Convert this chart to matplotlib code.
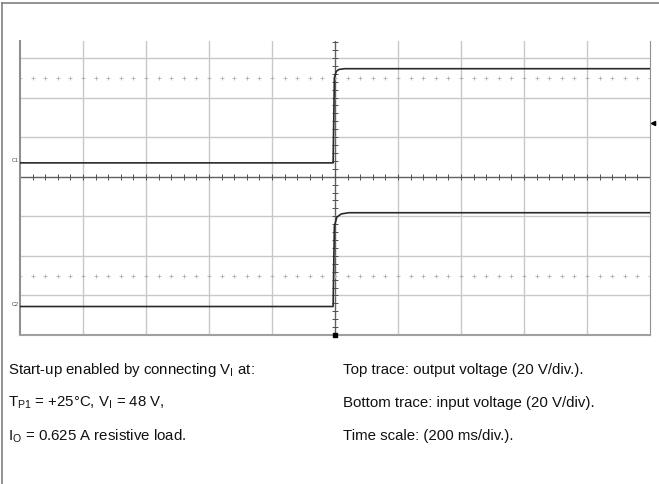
import numpy as np
import matplotlib.pyplot as plt
from matplotlib.lines import Line2D

plt.rcParams['font.family'] = ['Liberation Sans', 'DejaVu Sans']
plt.rcParams['mathtext.fontset'] = 'custom'
plt.rcParams['mathtext.rm'] = 'Liberation Sans'

# scope traces, in divisions (x: time div, y: volt div from centre)
t_top = [-5, -0.03, -0.01, 0.02, 0.06, 0.15, 5]
v_top = [0.35, 0.35, 2.50, 2.66, 2.71, 2.73, 2.73]
t_bot = [-5, -0.03, -0.01, 0.03, 0.10, 0.22, 5]
v_bot = [-3.28, -3.28, -1.25, -1.02, -0.94, -0.91, -0.91]
trig_level = 1.36

left_notes = ['Start-up enabled by connecting V$_\\mathrm{I}$ at:',
              'T$_\\mathrm{P1}$ = +25\u00b0C, V$_\\mathrm{I}$ = 48 V,',
              'I$_\\mathrm{O}$ = 0.625 A resistive load.']
right_notes = ['Top trace: output voltage (20 V/div.).',
               'Bottom trace: input voltage (20 V/div).',
               'Time scale: (200 ms/div.).']

fig = plt.figure(figsize=(6.59, 4.84), dpi=100)
ax = fig.add_axes([20/659, 149/484, 630/659, 294/484])
ax.set_xlim(-5, 5)
ax.set_ylim(-4, 3.43)

# grid
for x in range(-4, 5):
    ax.axvline(x, color='#c8c8c8' if x != 0 else '#606060', lw=1.0, zorder=1)
for y in range(-3, 4):
    ax.axhline(y, color='#c8c8c8' if y != 0 else '#606060', lw=1.0, zorder=1)

# dotted rows and centre ticks
minor = np.arange(-5, 5.01, 0.2)
for y in (2.5, -2.5):
    ax.plot(minor, [y] * len(minor), ls='none', marker='+', ms=2.5,
            mew=0.6, color='#b0b0b0', zorder=1)
ax.plot(minor, [0] * len(minor), ls='none', marker='|', ms=4,
        mew=0.7, color='#505050', zorder=2)
yminor = np.arange(-4, 3.43, 0.2)
ax.plot([0] * len(yminor), yminor, ls='none', marker='_', ms=4,
        mew=0.7, color='#505050', zorder=2)

# traces
ax.plot(t_top, v_top, color='#2a2a2a', lw=1.2, zorder=3)
ax.plot(t_bot, v_bot, color='#2a2a2a', lw=1.2, zorder=3)

ax.text(-5.02, v_top[0] + 0.05, 'C1', fontsize=4, ha='right', va='center', color='#444')
ax.text(-5.02, v_bot[0] + 0.05, 'C2', fontsize=4, ha='right', va='center', color='#444')
ax.plot([5.05], [trig_level], marker='<', ms=3, color='black', clip_on=False)
ax.plot([0], [-4], marker='s', ms=2.5, color='black', clip_on=False, zorder=4)

ax.set_xticks([])
ax.set_yticks([])
ax.spines['top'].set_visible(False)
ax.spines['left'].set_color('#909090')
ax.spines['left'].set_linewidth(1.5)
ax.spines['right'].set_color('#909090')
ax.spines['bottom'].set_color('#a0a0a0')
ax.spines['bottom'].set_linewidth(1.5)

# outer frame
fig.add_artist(Line2D([1.5/659, 1.5/659], [0, 1 - 2.5/484], color='#808080', lw=1.2))
fig.add_artist(Line2D([1.5/659, 1], [1 - 2.5/484, 1 - 2.5/484], color='#808080', lw=1.2))

# notes
for i, (l, r) in enumerate(zip(left_notes, right_notes)):
    y = 1 - (370 + 33 * i) / 484
    fig.text(8/659, y, l, fontsize=10.8, va='center', color='#111111')
    fig.text(343/659, y, r, fontsize=10.8, va='center', color='#111111')

fig.savefig('out.png', dpi=100)
